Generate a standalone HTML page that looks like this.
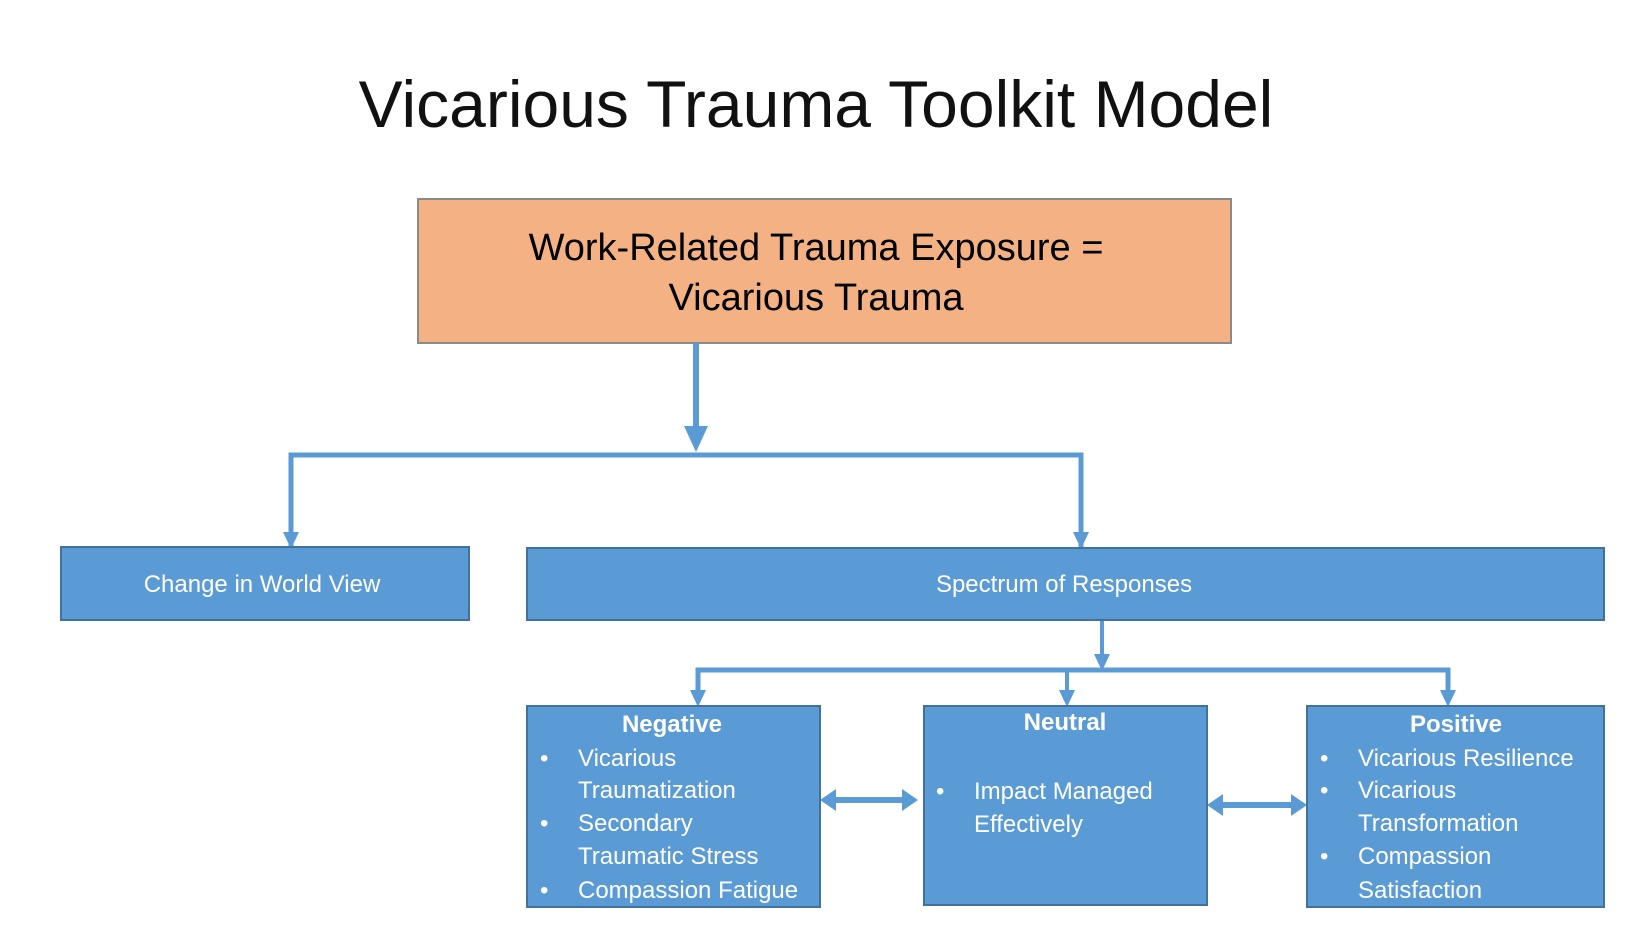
<!DOCTYPE html>
<html><head><meta charset="utf-8"><style>
html,body{margin:0;padding:0;background:#fff;}
svg{display:block;}
text{font-family:"Liberation Sans",sans-serif;}
.w{fill:#fff;font-size:24px;}
.b{fill:#fff;font-size:24px;font-weight:bold;}
</style></head><body>
<svg width="1650" height="928" viewBox="0 0 1650 928" xmlns="http://www.w3.org/2000/svg">
<text x="816" y="127" text-anchor="middle" font-size="66" fill="#111">Vicarious Trauma Toolkit Model</text>

<rect x="418" y="199" width="813" height="144" fill="#F4B183" stroke="#8a8a8a" stroke-width="2"/>
<text x="816" y="260" text-anchor="middle" font-size="38" fill="#000">Work-Related Trauma Exposure =</text>
<text x="816" y="310" text-anchor="middle" font-size="38" fill="#000">Vicarious Trauma</text>

<g stroke="#5B9BD5" fill="none" stroke-width="6">
<line x1="696" y1="343" x2="696" y2="430"/>
<polyline points="291,547 291,455 1081,455 1081,547" stroke-width="5"/>
<line x1="1102" y1="620" x2="1102" y2="660" stroke-width="4"/>
<polyline points="698,700 698,670 1448,670 1448,700" stroke-width="5"/>
<line x1="1067" y1="670" x2="1067" y2="700" stroke-width="4"/>
</g>
<g fill="#5B9BD5">
<polygon points="684,426 708,426 696,452"/>
<polygon points="283,532 299,532 291,549"/>
<polygon points="1073,532 1089,532 1081,549"/>
<polygon points="1094,654 1110,654 1102,671"/>
<polygon points="690,690 706,690 698,707"/>
<polygon points="1059,690 1075,690 1067,707"/>
<polygon points="1440,690 1456,690 1448,707"/>
<polygon points="820,800 836,789 836,797 902,797 902,789 918,800 902,811 902,803 836,803 836,811"/>
<polygon points="1207,805 1223,794 1223,802 1291,802 1291,794 1307,805 1291,816 1291,808 1223,808 1223,816"/>
</g>

<g fill="#5B9BD5" stroke="#41719C" stroke-width="2">
<rect x="61" y="547" width="408" height="73"/>
<rect x="527" y="548" width="1077" height="72"/>
<rect x="527" y="706" width="293" height="201"/>
<rect x="924" y="706" width="283" height="199"/>
<rect x="1307" y="706" width="297" height="201"/>
</g>

<text class="w" x="262" y="592" text-anchor="middle">Change in World View</text>
<text class="w" x="1064" y="592" text-anchor="middle">Spectrum of Responses</text>

<text class="b" x="672" y="732" text-anchor="middle">Negative</text>
<text class="w" x="540" y="766">•</text><text class="w" x="578" y="766">Vicarious</text>
<text class="w" x="578" y="798">Traumatization</text>
<text class="w" x="540" y="831">•</text><text class="w" x="578" y="831">Secondary</text>
<text class="w" x="578" y="864">Traumatic Stress</text>
<text class="w" x="540" y="898">•</text><text class="w" x="578" y="898">Compassion Fatigue</text>

<text class="b" x="1065" y="730" text-anchor="middle">Neutral</text>
<text class="w" x="936" y="799">•</text><text class="w" x="974" y="799">Impact Managed</text>
<text class="w" x="974" y="832">Effectively</text>

<text class="b" x="1456" y="732" text-anchor="middle">Positive</text>
<text class="w" x="1320" y="766">•</text><text class="w" x="1358" y="766">Vicarious Resilience</text>
<text class="w" x="1320" y="798">•</text><text class="w" x="1358" y="798">Vicarious</text>
<text class="w" x="1358" y="831">Transformation</text>
<text class="w" x="1320" y="864">•</text><text class="w" x="1358" y="864">Compassion</text>
<text class="w" x="1358" y="898">Satisfaction</text>
</svg>
</body></html>
